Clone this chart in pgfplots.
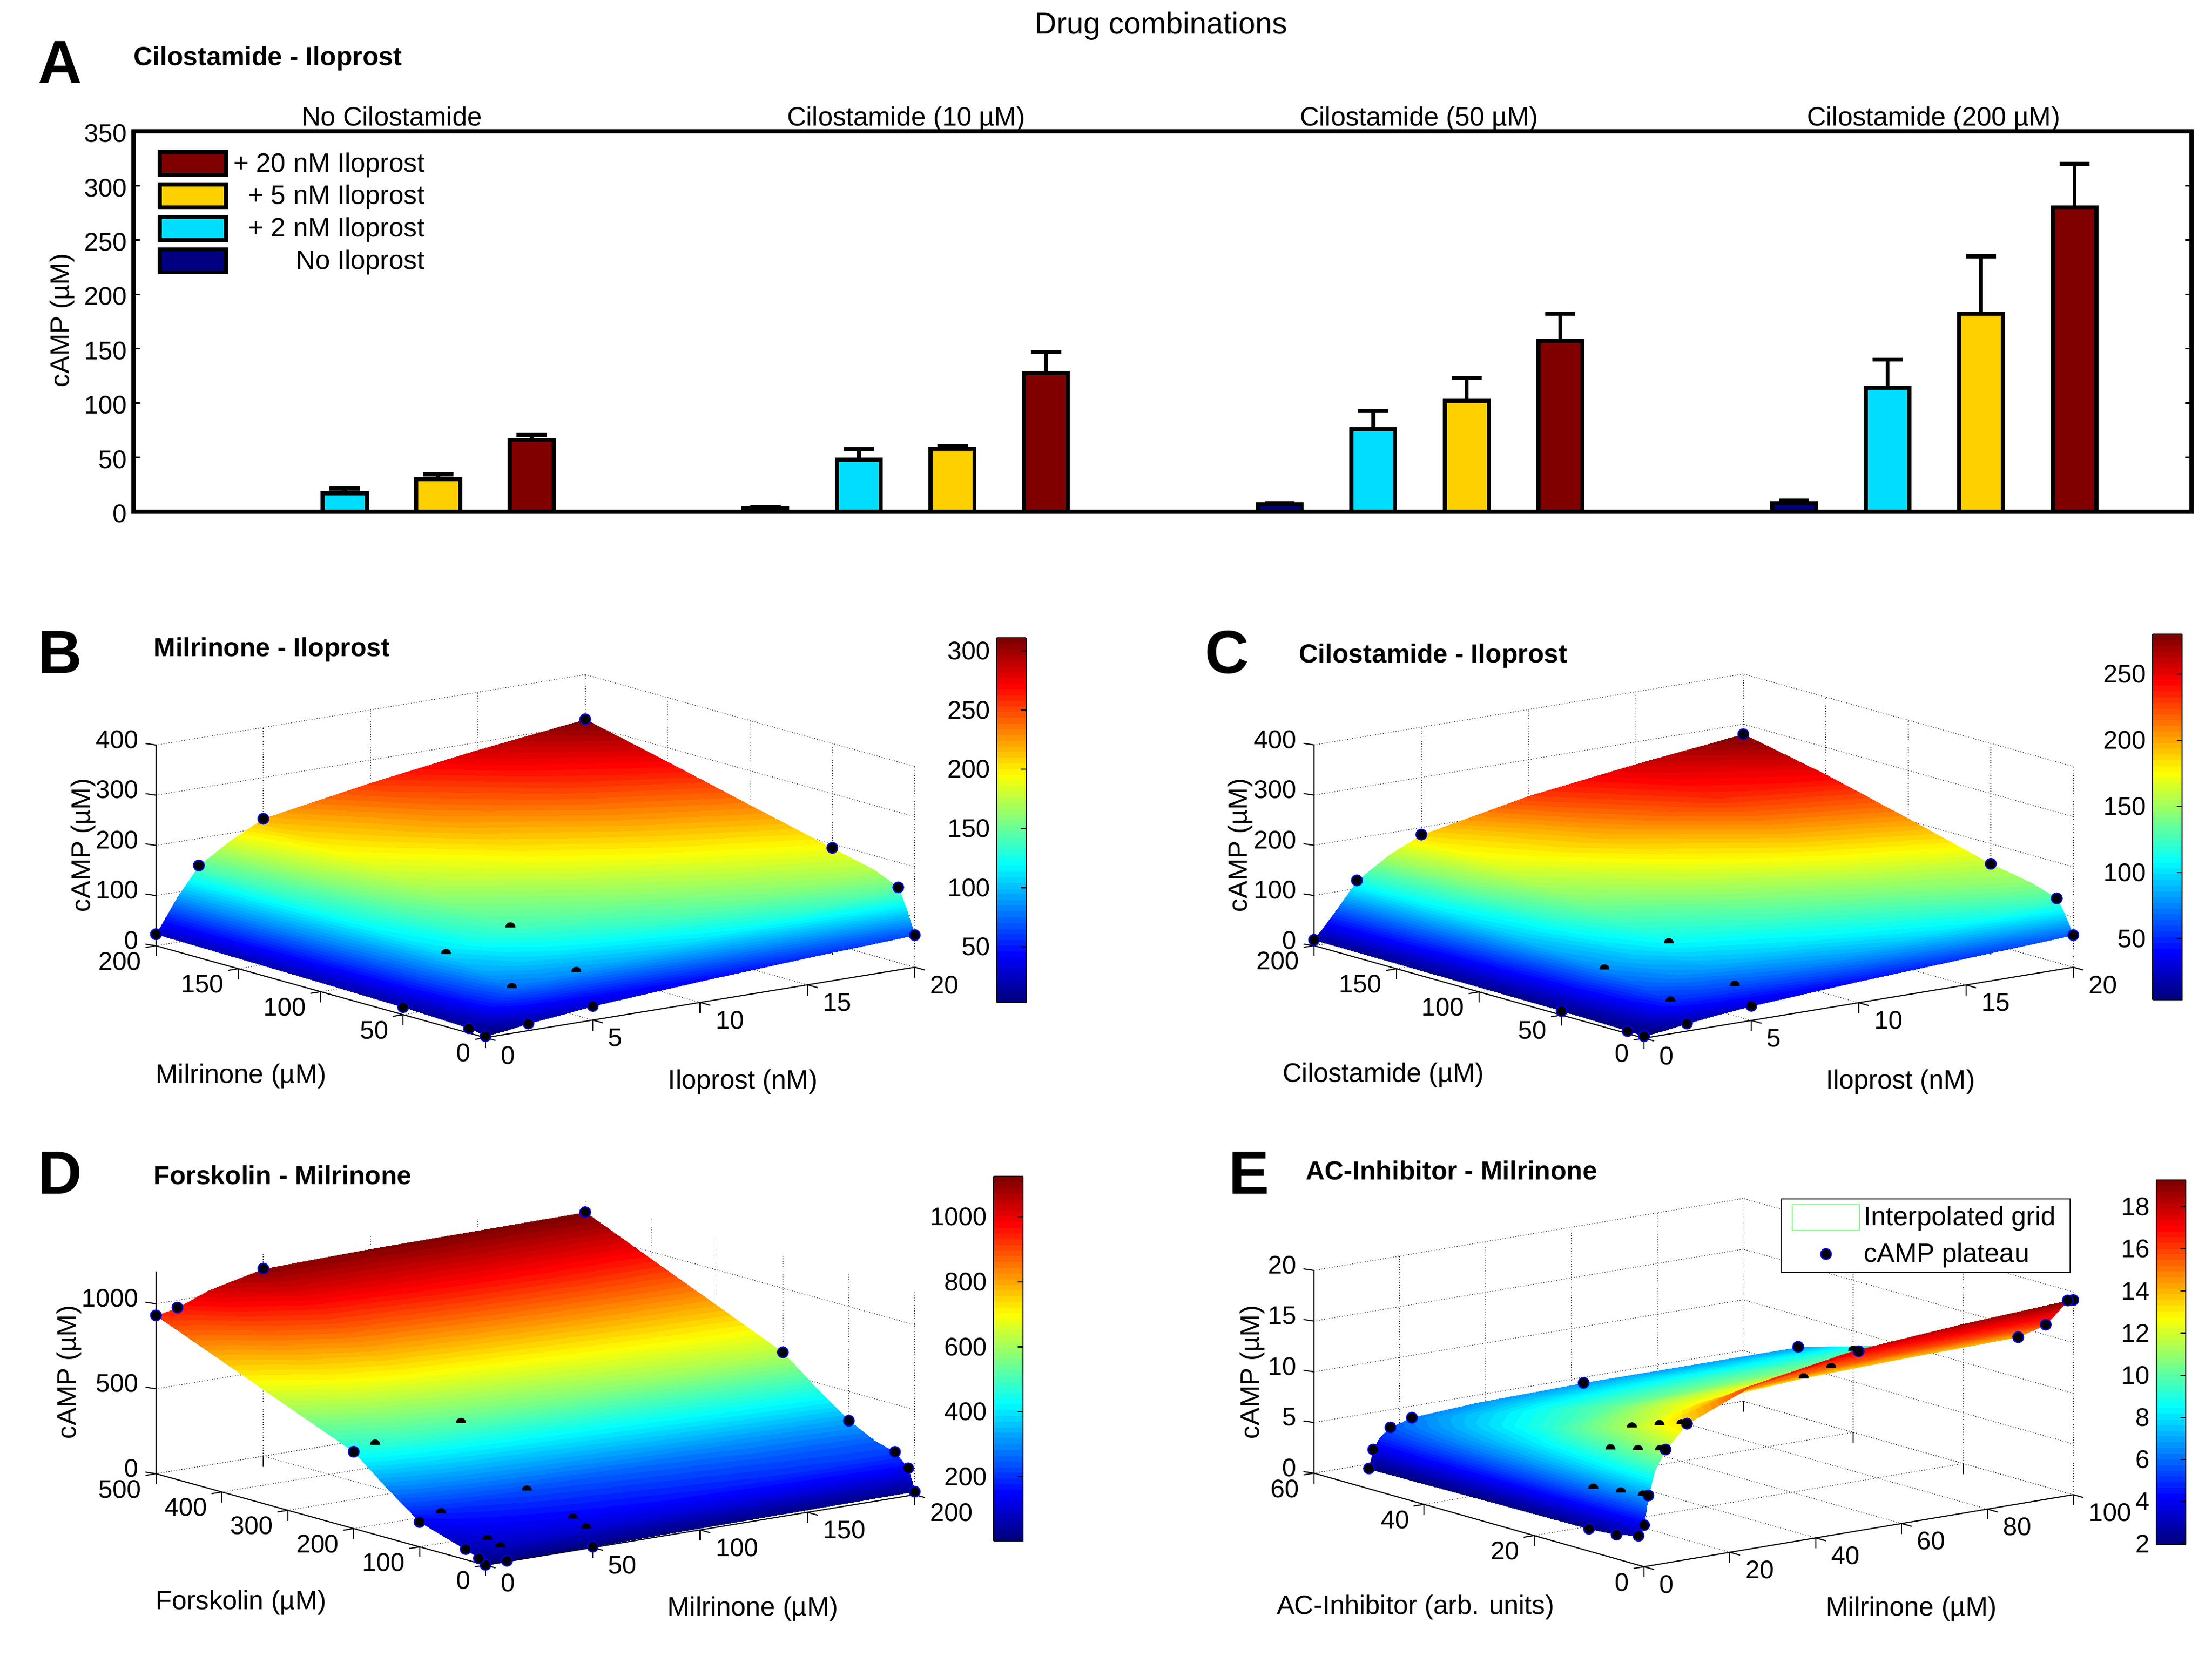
\documentclass[border=0pt]{standalone}
\usepackage{fontspec}
\setmainfont{Liberation Sans}
\usepackage{pgfplots}
\pgfplotsset{compat=1.18}

\definecolor{barnavy}{RGB}{0,0,128}
\definecolor{barcyan}{RGB}{0,221,255}
\definecolor{baryellow}{RGB}{255,208,0}
\definecolor{barred}{RGB}{128,0,0}

\newcommand{\lab}{\fontsize{14.4}{15}\selectfont}
\newcommand{\tk}{\fontsize{13.8}{15}\selectfont}
\newcommand{\ttl}{\fontsize{14.2}{15}\selectfont\bfseries}
\newcommand{\axlines}[3]{\draw[black, line width=0.6pt] (axis cs:#1,0,0) -- (axis cs:0,0,0) -- (axis cs:0,#2,0) -- (axis cs:0,#2,#3);}
\tikzset{ztk/.style={black, line width=0.6pt}}

% half disc for the dots that sink into the surface
\pgfdeclareplotmark{halfdot}{%
  \pgfpathmoveto{\pgfqpoint{-\pgfplotmarksize}{0pt}}%
  \pgfpatharc{180}{0}{\pgfplotmarksize}%
  \pgfpathclose
  \pgfusepathqfillstroke}

\pgfplotsset{
  colormap/jet,
  colormap={jetsteps}{samples of colormap=(64 of jet)},
  barser/.style={ybar, bar width=0.47, bar shift=0pt, draw=black, line width=2.2pt,
    error bars/.cd, y dir=plus, y explicit,
    error bar style={line width=2.2pt, solid},
    error mark options={rotate=90, mark size=8.2pt, line width=2.2pt},
    /pgfplots/.cd,
    legend image code/.code={\draw[##1, line width=2.2pt] (0cm,-0.22cm) rectangle (1.26cm,0.22cm);}},
  surfax/.style={
    colormap name=jetsteps,
    colormap access=piecewise constant,
    clip=false,
    grid=major,
    grid style={densely dotted, line width=0.4pt, black!80},
    axis line style={draw=none},
    xtick pos=left, ytick pos=left, ztick pos=right, zticklabel pos=left,
    tick align=outside,
    tick style={black, line width=0.6pt},
    z tick style={draw=none},
    major tick length=0.2cm,
    tick label style={font=\tk},
    /pgf/number format/assume math mode=true,
    /pgf/number format/1000 sep={},
    scaled ticks=false,
    xticklabel shift=0pt, yticklabel shift=0pt, zticklabel shift=0pt,
    xticklabel style={anchor=west, xshift=-0.02cm, yshift=-0.28cm},
    yticklabel style={anchor=east, xshift=0.04cm, yshift=-0.26cm},
    zticklabel style={anchor=east, xshift=-0.02cm, yshift=0.05cm},
    anchor=origin,
  },
  cbar/.style={
    width=0.56cm, anchor=south west,
    at={(parent axis.origin)},
    ytick pos=right, yticklabel pos=left,
    ytick align=inside,
    tick style={black, line width=0.6pt},
    major tick length=0.1cm,
    tick label style={font=\tk},
    /pgf/number format/assume math mode=true,
    /pgf/number format/1000 sep={},
    scaled ticks=false,
    axis line style={line width=0.6pt},
  },
  surfp/.style={surf, shader=interp, mesh/cols=#1},
  outer dots/.style={only marks, forget plot, mark=*, mark size=2.9pt, mark options={draw=blue, fill=black, line width=0.6pt}},
  inner dots/.style={only marks, mark=halfdot, mark size=2.6pt, mark options={draw=black, fill=black, line width=0.2pt}},
}

\begin{document}
\begin{tikzpicture}
\path[use as bounding box] (0,0) rectangle (42.10,-31.52);

% ---- panel A
\begin{axis}[
  at={(2.54cm,-9.74cm)}, anchor=south west,
  scale only axis, width=39.17cm, height=7.24cm,
  xmin=-1.258, xmax=20.75, ymin=0, ymax=350,
  xtick=\empty, ytick={0,50,...,350},
  tick label style={font=\tk},
  yticklabel style={yshift=-0.04cm},
  /pgf/number format/assume math mode=true,
  axis line style={line width=2.2pt},
  y tick style={black, line width=1pt}, major tick length=0.12cm,
  legend style={draw=none, fill=none, at={(0.0117,0.951)}, anchor=north west, font=\lab,
    row sep=0.1cm, inner sep=0pt, outer sep=0pt, nodes={inner xsep=3pt, inner ysep=1pt}},
  legend cell align=right, reverse legend,
]
\addplot[barser, fill=barnavy] table[x=x, y=y, y error=e] {
x y e
0 0 0
5.5 3.4 1
11 7 1
16.5 8 2
};
\addplot[barser, fill=barcyan] table[x=x, y=y, y error=e] {
x y e
1 17 4.4
6.5 48 9.7
12 76 17
17.5 114 26
};
\addplot[barser, fill=baryellow] table[x=x, y=y, y error=e] {
x y e
2 30 4.3
7.5 58 2.4
13 102 21
18.5 182 53
};
\addplot[barser, fill=barred] table[x=x, y=y, y error=e] {
x y e
3 66 4.6
8.5 127.6 19.4
14 157 25
19.5 280 40
};
\addlegendentry{No Iloprost}
\addlegendentry{+ 2 nM Iloprost}
\addlegendentry{+ 5 nM Iloprost}
\addlegendentry{+ 20 nM Iloprost}
\end{axis}

% ---- panel B
\begin{axis}[
  surfax, at={(9.24cm,-19.75cm)},
  x={(0.4085cm,0.067cm)}, y={(-0.03135cm,0.00875cm)}, z={(0cm,0.00955cm)},
  xmin=0, xmax=20, ymin=0, ymax=200, zmin=0, zmax=400,
  xtick={0,5,...,20}, ytick={0,50,...,200}, ztick={0,100,...,400},
  point meta min=3, point meta max=311,
  colorbar,
  colorbar style={cbar, height=6.94cm, xshift=9.43cm, yshift=0.67cm, ytick={50,100,...,300}},
]
\axlines{20}{200}{400}
\pgfplotsinvokeforeach{0,100,200,300,400}{\draw[ztk] (axis cs:0,200,#1) -- ++(-0.2cm,0.03cm);}
\addplot3[outer dots] table[row sep=\\] {
0 0 3\\ 2 0 14\\ 5 0 28\\ 20 0 64\\ 0 10 9.5\\ 20 10 150\\ 0 50 15\\ 20 50 192\\ 0 200 23\\ 2 200 146\\ 5 200 218\\ 20 200 311\\
};
\addplot3[surfp=8] table[row sep=\\] {
0 0 3\\ 1 0 8\\ 2 0 14\\ 3.5 0 21\\ 5 0 28\\ 10 0 42\\ 15 0 54\\ 20 0 64\\
0 5 7\\ 1 5 30\\ 2 5 50\\ 3.5 5 56\\ 5 5 60\\ 10 5 78\\ 15 5 96\\ 20 5 112\\
0 10 9.5\\ 1 10 45\\ 2 10 76\\ 3.5 10 83\\ 5 10 87\\ 10 10 108\\ 15 10 130\\ 20 10 150\\
0 25 12\\ 1 25 55\\ 2 25 92\\ 3.5 25 104\\ 5 25 112\\ 10 25 136\\ 15 25 155\\ 20 25 172\\
0 50 15\\ 1 50 65\\ 2 50 107\\ 3.5 50 126\\ 5 50 139\\ 10 50 157\\ 15 50 176\\ 20 50 192\\
0 100 18\\ 1 100 75\\ 2 100 121\\ 3.5 100 148\\ 5 100 167\\ 10 100 193\\ 15 100 214\\ 20 100 232\\
0 150 20.5\\ 1 150 83\\ 2 150 134\\ 3.5 150 168\\ 5 150 193\\ 10 150 226\\ 15 150 252\\ 20 150 272\\
0 200 23\\ 1 200 90\\ 2 200 146\\ 3.5 200 186\\ 5 200 218\\ 10 200 255\\ 15 200 285\\ 20 200 311\\
};
\addplot3[inner dots] table[row sep=\\] {
2 10 76\\ 5 10 87\\ 2 50 107\\ 5 50 139\\
};
\end{axis}

% ---- panel C
\begin{axis}[
  surfax, at={(31.29cm,-19.76cm)},
  x={(0.4085cm,0.0675cm)}, y={(-0.0314cm,0.0088cm)}, z={(0cm,0.00955cm)},
  xmin=0, xmax=20, ymin=0, ymax=200, zmin=0, zmax=400,
  xtick={0,5,...,20}, ytick={0,50,...,200}, ztick={0,100,...,400},
  point meta min=4, point meta max=280,
  colorbar,
  colorbar style={cbar, height=6.96cm, xshift=9.38cm, yshift=0.73cm, ytick={50,100,...,250}},
]
\axlines{20}{200}{400}
\pgfplotsinvokeforeach{0,100,200,300,400}{\draw[ztk] (axis cs:0,200,#1) -- ++(-0.2cm,0.03cm);}
\addplot3[outer dots] table[row sep=\\] {
0 0 4\\ 2 0 15\\ 5 0 29\\ 20 0 64\\ 0 10 5\\ 20 10 128\\ 0 50 8\\ 20 50 160\\ 0 200 11.5\\ 2 200 116\\ 5 200 186\\ 20 200 280\\
};
\addplot3[surfp=8] table[row sep=\\] {
0 0 4\\ 1 0 9\\ 2 0 15\\ 3.5 0 22\\ 5 0 29\\ 10 0 42\\ 15 0 53\\ 20 0 64\\
0 5 4.5\\ 1 5 18\\ 2 5 34\\ 3.5 5 44\\ 5 5 48\\ 10 5 66\\ 15 5 82\\ 20 5 100\\
0 10 5\\ 1 10 26\\ 2 10 50\\ 3.5 10 56\\ 5 10 60\\ 10 10 82\\ 15 10 104\\ 20 10 128\\
0 25 6.5\\ 1 25 33\\ 2 25 63\\ 3.5 25 76\\ 5 25 84\\ 10 25 105\\ 15 25 123\\ 20 25 145\\
0 50 8\\ 1 50 40\\ 2 50 77\\ 3.5 50 93\\ 5 50 108\\ 10 50 127\\ 15 50 145\\ 20 50 160\\
0 100 9.5\\ 1 100 48\\ 2 100 92\\ 3.5 100 118\\ 5 100 139\\ 10 100 163\\ 15 100 187\\ 20 100 204\\
0 150 10.5\\ 1 150 55\\ 2 150 105\\ 3.5 150 140\\ 5 150 165\\ 10 150 198\\ 15 150 232\\ 20 150 246\\
0 200 11.5\\ 1 200 62\\ 2 200 116\\ 3.5 200 156\\ 5 200 186\\ 10 200 228\\ 15 200 256\\ 20 200 280\\
};
\addplot3[inner dots] table[row sep=\\] {
2 10 50\\ 5 10 60\\ 2 50 77\\ 5 50 108\\
};
\end{axis}

% ---- panel D
\begin{axis}[
  surfax, at={(9.24cm,-29.79cm)},
  x={(0.04085cm,0.0067cm)}, y={(-0.01254cm,0.00348cm)}, z={(0cm,0.00323cm)},
  xmin=0, xmax=200, ymin=0, ymax=500, zmin=0, zmax=1190,
  xtick={0,50,...,200}, ytick={0,100,...,500}, ztick={0,500,1000},
  point meta min=2, point meta max=1125,
  colorbar,
  colorbar style={cbar, height=6.94cm, xshift=9.37cm, yshift=0.46cm, ytick={200,400,...,1000}},
]
\axlines{200}{500}{1190}
\pgfplotsinvokeforeach{0,500,1000}{\draw[ztk] (axis cs:0,500,#1) -- ++(-0.2cm,0.03cm);}
\addplot3[outer dots] table[row sep=\\] {
0 0 2\\ 10 0 5\\ 50 0 5\\ 200 0 18\\ 0 10 29\\ 200 10 145\\ 0 30 62\\ 200 30 220\\ 0 100 146\\ 200 100 328\\ 0 200 452\\ 200 200 623\\ 0 500 932\\ 10 500 957\\ 50 500 1104\\ 200 500 1125\\
};
\addplot3[surfp=7] table[row sep=\\] {
0 0 2\\ 10 0 5\\ 25 0 5\\ 50 0 5\\ 100 0 9\\ 150 0 14\\ 200 0 18\\
0 5 15\\ 10 5 40\\ 25 5 46\\ 50 5 52\\ 100 5 62\\ 150 5 72\\ 200 5 80\\
0 10 29\\ 10 10 74\\ 25 10 85\\ 50 10 102\\ 100 10 118\\ 150 10 132\\ 200 10 145\\
0 30 62\\ 10 30 96\\ 25 30 115\\ 50 30 139\\ 100 30 168\\ 150 30 196\\ 200 30 220\\
0 60 95\\ 10 60 130\\ 25 60 150\\ 50 60 175\\ 100 60 205\\ 150 60 232\\ 200 60 250\\
0 100 146\\ 10 100 178\\ 25 100 200\\ 50 100 229\\ 100 100 265\\ 150 100 300\\ 200 100 328\\
0 150 294\\ 10 150 322\\ 25 150 345\\ 50 150 370\\ 100 150 410\\ 150 150 443\\ 200 150 470\\
0 200 452\\ 10 200 474\\ 25 200 495\\ 50 200 519\\ 100 200 560\\ 150 200 597\\ 200 200 623\\
0 300 612\\ 10 300 640\\ 25 300 680\\ 50 300 720\\ 100 300 755\\ 150 300 775\\ 200 300 790\\
0 400 772\\ 10 400 795\\ 25 400 850\\ 50 400 915\\ 100 400 945\\ 150 400 955\\ 200 400 958\\
0 500 932\\ 10 500 957\\ 25 500 1030\\ 50 500 1104\\ 100 500 1115\\ 150 500 1120\\ 200 500 1125\\
};
\addplot3[inner dots] table[row sep=\\] {
10 10 74\\ 50 10 102\\ 10 30 96\\ 50 30 139\\ 10 100 178\\ 50 100 229\\ 10 200 474\\ 50 200 519\\
};
\end{axis}

% ---- panel E
\begin{axis}[
  surfax, at={(31.29cm,-29.82cm)},
  x={(0.0817cm,0.0137cm)}, y={(-0.1047cm,0.02967cm)}, z={(0cm,0.193cm)},
  xmin=0, xmax=100, ymin=0, ymax=60, zmin=0, zmax=20,
  xtick={0,20,...,100}, ytick={0,20,40,60}, ztick={0,5,...,20},
  point meta min=1.96, point meta max=19.27,
  colorbar,
  colorbar style={cbar, height=6.94cm, xshift=9.45cm, yshift=0.42cm, ytick={2,4,...,18}},
  legend style={at={(0.615,1.0)}, anchor=north west, font=\lab, draw=black, line width=0.5pt,
    row sep=0.14cm, inner ysep=2pt, inner xsep=0.2cm},
  legend cell align=left,
]
\axlines{100}{60}{20}
\pgfplotsinvokeforeach{0,5,10,15,20}{\draw[ztk] (axis cs:0,60,#1) -- ++(-0.2cm,0.03cm);}
\addplot3[outer dots] table[row sep=\\] {
0 0 4.1\\ 1 0 6.95\\ 5 0 11.2\\ 10 0 13.4\\ 50 0 17.7\\ 100 0 19.2\\ 0 1 2.9\\ 100 1 19\\ 0 5 2.4\\ 100 5 16\\ 0 10 2.2\\ 100 10 14\\ 0 50 2\\ 1 50 3.8\\ 5 50 5.7\\ 10 50 6.3\\ 50 50 6.9\\ 100 50 6.9\\
};
\addplot3[surfp=9, legend image code/.code={\draw[draw=green!50, fill=white, line width=0.5pt] (0cm,-0.245cm) rectangle (1.28cm,0.245cm);}] table[row sep=\\] {
0 0 4.1\\ 1 0 6.95\\ 2.5 0 9.3\\ 5 0 11.2\\ 10 0 13.4\\ 25 0 16\\ 50 0 17.7\\ 75 0 18.6\\ 100 0 19.27\\
0 1 2.9\\ 1 1 6.8\\ 2.5 1 9.1\\ 5 1 11\\ 10 1 13.2\\ 25 1 15.8\\ 50 1 17.6\\ 75 1 18.4\\ 100 1 19\\
0 5 2.4\\ 1 5 6.5\\ 2.5 5 8.6\\ 5 5 10.4\\ 10 5 12.5\\ 25 5 14.3\\ 50 5 15.3\\ 75 5 15.8\\ 100 5 16\\
0 10 2.2\\ 1 10 6.1\\ 2.5 10 8.1\\ 5 10 9.7\\ 10 10 11.5\\ 25 10 12.8\\ 50 10 13.5\\ 75 10 13.8\\ 100 10 14\\
0 25 2.1\\ 1 25 5.1\\ 2.5 25 6.8\\ 5 25 8\\ 10 25 9.2\\ 25 25 10.2\\ 50 25 10.6\\ 75 25 10.8\\ 100 25 11\\
0 50 1.96\\ 1 50 3.8\\ 2.5 50 4.9\\ 5 50 5.7\\ 10 50 6.3\\ 25 50 6.7\\ 50 50 6.9\\ 75 50 6.9\\ 100 50 6.9\\
};
\addplot3[inner dots, legend image code/.code={\fill[draw=blue, fill=black, line width=0.6pt] (0.64cm,0cm) circle (2.9pt);}] table[row sep=\\] {
1 1 6.8\\ 5 1 11\\ 10 1 13.2\\ 50 1 17.6\\ 1 5 6.5\\ 5 5 10.4\\ 10 5 12.5\\ 50 5 15.3\\ 1 10 6.1\\ 5 10 9.7\\ 10 10 11.5\\ 50 10 13.5\\
};
\addlegendentry{Interpolated grid}
\addlegendentry{cAMP plateau}
\end{axis}

% ---- text
\node[font=\fontsize{16.4}{18}\selectfont] at (22.10,-0.50) {Drug combinations};
\foreach \t/\px/\py in {A/1.14/-1.19, B/1.14/-12.42, C/23.35/-12.42, D/1.14/-22.33, E/23.77/-22.33}
  \node[font=\fontsize{33}{36}\selectfont\bfseries] at (\px,\py) {\t};
\node[font=\ttl, anchor=west, inner sep=0pt] at (2.54,-1.12) {Cilostamide - Iloprost};
\node[font=\ttl, anchor=west, inner sep=0pt] at (2.92,-12.37) {Milrinone - Iloprost};
\node[font=\ttl, anchor=west, inner sep=0pt] at (24.72,-12.49) {Cilostamide - Iloprost};
\node[font=\ttl, anchor=west, inner sep=0pt] at (2.92,-22.37) {Forskolin - Milrinone};
\node[font=\ttl, anchor=west, inner sep=0pt] at (24.85,-22.28) {AC-Inhibitor - Milrinone};
\node[font=\lab, anchor=base] at (7.46,-2.39) {No Cilostamide};
\node[font=\lab, anchor=base] at (17.25,-2.39) {Cilostamide (10 µM)};
\node[font=\lab, anchor=base] at (27.01,-2.39) {Cilostamide (50 µM)};
\node[font=\lab, anchor=base] at (36.80,-2.39) {Cilostamide (200 µM)};
\node[font=\lab, rotate=90] at (1.18,-6.10) {cAMP (µM)};
\node[font=\lab, rotate=90] at (1.58,-16.09) {cAMP (µM)};
\node[font=\lab, rotate=90] at (23.60,-16.09) {cAMP (µM)};
\node[font=\lab, rotate=90] at (1.31,-26.12) {cAMP (µM)};
\node[font=\lab, rotate=90] at (23.83,-26.12) {cAMP (µM)};
\node[font=\lab] at (4.59,-20.48) {Milrinone (µM)};
\node[font=\lab] at (14.14,-20.59) {Iloprost (nM)};
\node[font=\lab] at (26.33,-20.46) {Cilostamide (µM)};
\node[font=\lab] at (36.17,-20.59) {Iloprost (nM)};
\node[font=\lab] at (4.59,-30.50) {Forskolin (µM)};
\node[font=\lab] at (14.33,-30.62) {Milrinone (µM)};
\node[font=\lab] at (26.94,-30.59) {AC-Inhibitor (arb. units)};
\node[font=\lab] at (36.38,-30.62) {Milrinone (µM)};
\end{tikzpicture}
\end{document}
